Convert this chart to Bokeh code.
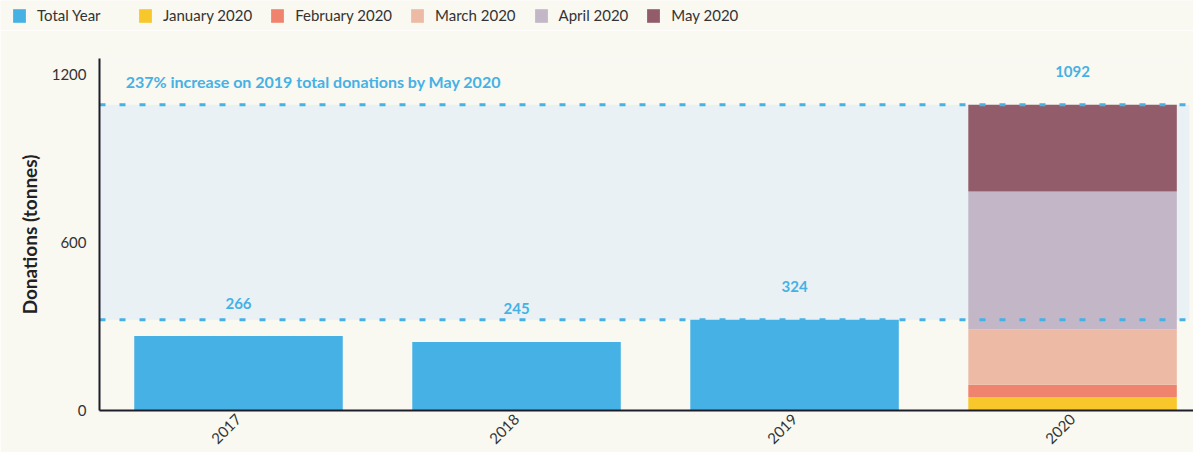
import math
import numpy as np
from bokeh.plotting import figure
from bokeh.layouts import column
from bokeh.models import Range1d, FixedTicker, Legend, LegendItem, ColumnDataSource
from bokeh.core.properties import value
from bokeh.embed import file_html
from bokeh.resources import INLINE

# ---- data ----
years = ["2017", "2018", "2019", "2020"]
total_years = ["2017", "2018", "2019"]
total_values = [266, 245, 324]
months = ["January 2020", "February 2020", "March 2020", "April 2020", "May 2020"]
month_values = [47, 45, 197, 493, 310]
y_ticks = [0, 600, 1200]
annotation_text = "237% increase on 2019 total donations by May 2020"

# ---- styles ----
BG = "#f9f8f1"
BLUE = "#45b1e5"
BAND = "#e9f1f5"
month_colors = ["#f7c72c", "#f0836e", "#edbaa6", "#c3b6c7", "#935c6a"]
FONT = "Lato"
TXT = "#333333"
BAR_W = 0.75

x_of = {y: i + 0.5 for i, y in enumerate(years)}

# ---------------- legend strip ----------------
lg = figure(width=1193, height=30, output_backend="svg", toolbar_location=None,
            x_range=Range1d(0, 1), y_range=Range1d(0, 1), min_border=0,
            x_axis_location=None, y_axis_location=None)
lg.frame_align = False
lg.background_fill_color = BG
lg.border_fill_color = BG
lg.outline_line_color = None
lg.grid.visible = False


def legend_items(names, colors):
    out = []
    for name, c in zip(names, colors):
        # swatch proxy placed outside the visible range
        r = lg.vbar(x=[5], top=[1], bottom=[0], width=0.5, fill_color=c, line_color=None)
        out.append(LegendItem(label=name, renderers=[r]))
    return out


def make_legend(items, loc):
    return Legend(items=items, orientation="horizontal", location=loc,
                  glyph_width=16, glyph_height=17, label_standoff=10, spacing=17,
                  padding=0, margin=0, background_fill_alpha=0, border_line_color=None,
                  label_text_font=FONT, label_text_font_size="15px", label_text_color=TXT,
                  label_height=14)


lg.add_layout(make_legend(legend_items(["Total Year"], [BLUE]), (11, 6)), "center")
lg.add_layout(make_legend(legend_items(months, month_colors), (137, 6)), "center")

# ---------------- main chart ----------------
p = figure(width=1193, height=422, output_backend="svg", toolbar_location=None,
           x_range=Range1d(0, 3.935), y_range=Range1d(0, 1257),
           min_border_left=99, min_border_right=0, min_border_top=28, min_border_bottom=42)
p.frame_align = False
p.background_fill_color = BG
p.border_fill_color = BG
p.outline_line_color = None
p.xgrid.grid_line_color = None
p.ygrid.grid_line_color = None

total_2020 = int(np.sum(month_values))
base_2019 = total_values[total_years.index("2019")]

# band between 2019 total and 2020 total
p.quad(left=[0], right=[3.92], bottom=[base_2019], top=[total_2020],
       fill_color=BAND, line_color=None)

# total-year bars
src_tot = ColumnDataSource(dict(x=[x_of[y] for y in total_years], top=total_values))
p.vbar(x="x", top="top", bottom=0, width=BAR_W, source=src_tot,
       fill_color=BLUE, line_color=None)

# stacked 2020 months
tops = np.cumsum(month_values)
bottoms = tops - np.array(month_values)
for b, t, c in zip(bottoms, tops, month_colors):
    p.vbar(x=[x_of["2020"]], bottom=[float(b)], top=[float(t)], width=BAR_W,
           fill_color=c, line_color=None)

# dashed reference lines
for yv in [base_2019, total_2020]:
    p.line(x=[0, 3.935], y=[yv, yv], line_color=BLUE, line_width=3, line_dash="6 14")

# value labels
lbl_x = [x_of[y] for y in total_years] + [x_of["2020"]]
lbl_y = total_values + [total_2020]
lbl_t = [str(v) for v in total_values] + [str(total_2020)]
p.text(x=lbl_x, y=lbl_y, text=lbl_t, y_offset=-33, text_align="center",
       text_baseline="middle", text_color=BLUE, text_font=value(FONT),
       text_font_size="15px", text_font_style="bold")

# annotation
p.text(x=[0.094], y=[total_2020], text=[annotation_text], y_offset=-23,
       text_align="left", text_baseline="middle", text_color=BLUE,
       text_font=value(FONT), text_font_size="16px", text_font_style="bold")

# axes
p.xaxis.ticker = FixedTicker(ticks=[x_of[y] for y in years])
p.xaxis.major_label_overrides = {x_of[y]: y for y in years}
p.xaxis.major_label_orientation = math.pi / 4
p.xaxis.major_tick_line_color = None
p.xaxis.major_tick_out = 0
p.xaxis.minor_tick_line_color = None
p.xaxis.axis_line_color = "#1e1e2a"
p.xaxis.axis_line_width = 2
p.xaxis.major_label_text_font = FONT
p.xaxis.major_label_text_font_size = "15px"
p.xaxis.major_label_text_color = TXT
p.xaxis.major_label_standoff = 6

p.yaxis.ticker = FixedTicker(ticks=y_ticks)
p.yaxis.major_tick_line_color = None
p.yaxis.major_tick_out = 0
p.yaxis.minor_tick_line_color = None
p.yaxis.axis_line_color = "#1e1e2a"
p.yaxis.axis_line_width = 2
p.yaxis.major_label_text_font = FONT
p.yaxis.major_label_text_font_size = "15px"
p.yaxis.major_label_text_color = TXT
p.yaxis.major_label_standoff = 13
p.yaxis.axis_label = "Donations (tonnes)"
p.yaxis.axis_label_text_font = FONT
p.yaxis.axis_label_text_font_size = "19px"
p.yaxis.axis_label_text_font_style = "bold"
p.yaxis.axis_label_text_color = "#222222"
p.yaxis.axis_label_standoff = 8

layout = column(lg, p, spacing=0)
open("out.html", "w").write(file_html(layout, INLINE))
